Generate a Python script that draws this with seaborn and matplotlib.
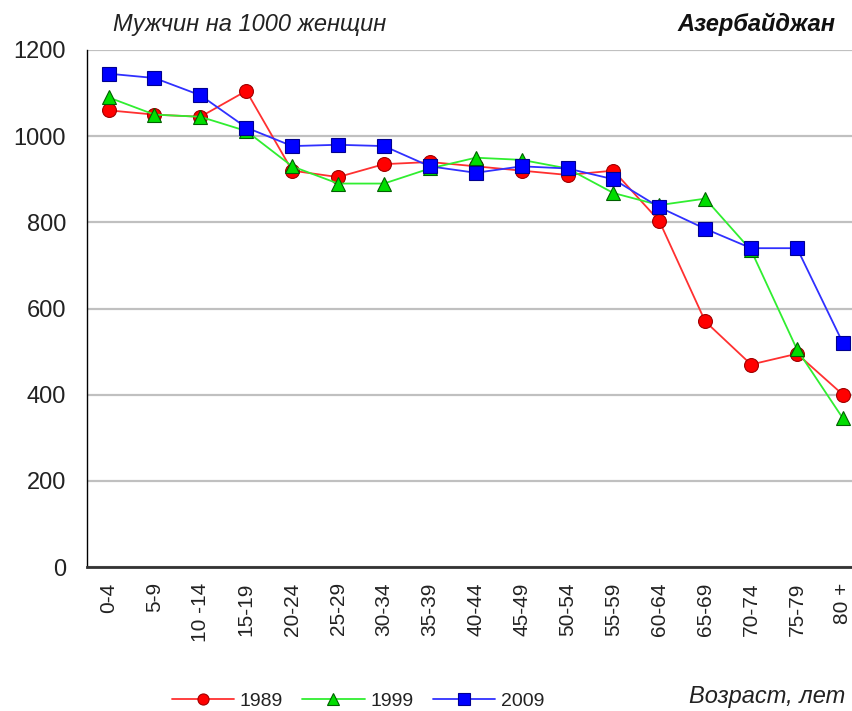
import matplotlib
matplotlib.use("Agg")
import matplotlib.pyplot as plt
import seaborn as sns
import pandas as pd
import numpy as np

categories = ["0-4", "5-9", "10 -14", "15-19", "20-24", "25-29", "30-34", "35-39",
              "40-44", "45-49", "50-54", "55-59", "60-64", "65-69", "70-74", "75-79", "80 +"]
v1989 = [1060, 1050, 1045, 1105, 920, 905, 935, 940, 930, 920, 910, 920, 803, 570, 470, 495, 400]
v1999 = [1090, 1050, 1045, 1012, 930, 890, 890, 925, 950, 945, 925, 868, 840, 855, 735, 505, 345]
v2009 = [1145, 1135, 1095, 1020, 977, 980, 977, 930, 915, 930, 925, 900, 835, 785, 740, 740, 520]
series_names = ["1989", "1999", "2009"]
yticks = [0, 200, 400, 600, 800, 1000, 1200]

sns.set_theme(style="white")
plt.rcParams['font.family'] = ['Liberation Sans', 'DejaVu Sans']

fig = plt.figure(figsize=(8.53, 7.11), dpi=100)
ax = fig.add_axes([87/853, 1 - 567/711, 1 - 87/853, (567 - 50)/711])

x = np.arange(len(categories))
styles = [
    dict(color="#ff3030", marker="o", mfc="#ff0000", mec="#a00000", ms=10),
    dict(color="#30ee30", marker="^", mfc="#00dd00", mec="#006000", ms=10),
    dict(color="#3030ff", marker="s", mfc="#0000ff", mec="#000090", ms=10),
]
for name, vals, st in zip(series_names, [v1989, v1999, v2009], styles):
    df = pd.DataFrame({"x": x, "y": vals})
    sns.lineplot(data=df, x="x", y="y", ax=ax, color=st["color"], marker=st["marker"],
                 markerfacecolor=st["mfc"], markeredgecolor=st["mec"], markersize=st["ms"],
                 markeredgewidth=0.8, linewidth=1.3, label=name, legend=False)

ax.set_xlim(-0.47, 16.22)
ax.set_ylim(0, 1200)
ax.set_yticks(yticks)
ax.set_yticklabels([str(v) for v in yticks], fontsize=17, color="#222222")
ax.set_xticks(x)
ax.set_xticklabels(categories, rotation=90, fontsize=15, color="#222222")
ax.set_xlabel("")
ax.set_ylabel("")
ax.yaxis.grid(True, color="#c0c0c0", linewidth=1.6)
ax.set_axisbelow(True)
for s in ["top", "right"]:
    ax.spines[s].set_visible(False)
ax.spines["left"].set_color("black")
ax.spines["left"].set_linewidth(1.0)
ax.spines["bottom"].set_color("#333333")
ax.spines["bottom"].set_linewidth(2.0)
ax.tick_params(axis="y", which="both", left=False, length=0, pad=15)
ax.tick_params(axis="x", which="both", bottom=False, length=0, pad=11)

fig.text(113/853, 1 - 24/711, "Мужчин на 1000 женщин", fontsize=17, style="italic",
         ha="left", va="center", color="#222222")
fig.text(835/853, 1 - 24/711, "Азербайджан", fontsize=17, style="italic", weight="bold",
         ha="right", va="center", color="#111111")
fig.text(845/853, 1 - 697/711, "Возраст, лет", fontsize=17, style="italic",
         ha="right", va="center", color="#222222")

handles, labels = ax.get_legend_handles_labels()
leg = fig.legend(handles, labels, loc="center", bbox_to_anchor=(358/853, 1 - 701/711), ncol=3,
                 frameon=False, fontsize=14, handlelength=3.2, columnspacing=1.0,
                 handletextpad=0.3, markerscale=0.8)
for t in leg.get_texts():
    t.set_color("#222222")

fig.savefig("out.png", dpi=100)
